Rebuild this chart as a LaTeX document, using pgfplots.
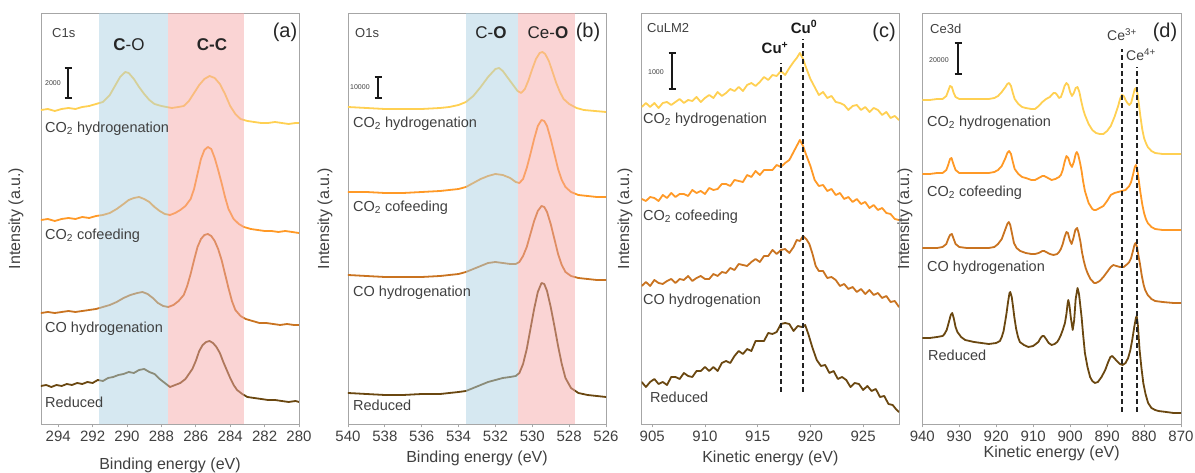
\documentclass[border=0pt]{standalone}
\usepackage{fontspec}
\setmainfont{Liberation Sans}
\usepackage{pgfplots}
\pgfplotsset{compat=1.18}

\definecolor{cy}{HTML}{FFD052}   % CO2 hydrogenation
\definecolor{co}{HTML}{FF9926}   % CO2 cofeeding
\definecolor{ch}{HTML}{C97320}   % CO hydrogenation
\definecolor{cr}{HTML}{6A4710}   % reduced
\definecolor{bandblue}{RGB}{173,209,227}
\definecolor{bandpink}{RGB}{245,169,169}
\definecolor{axgray}{HTML}{A6A6A6}
\definecolor{txtgray}{HTML}{404040}
\definecolor{dashc}{HTML}{222222}

\newcommand\fs[1]{\fontsize{#1}{#1}\selectfont}

\pgfplotsset{
  xps/.style={
    scale only axis, height=411pt, anchor=south west,
    ymin=0, ymax=411, ytick=\empty,
    axis line style={draw=axgray, line width=0.9pt},
    xtick pos=left, tick align=outside, major tick length=3.5pt,
    tick style={draw=axgray, line width=0.9pt},
    xticklabel style={font=\fs{15}, text=txtgray},
    /pgf/number format/assume math mode=true,
    /pgf/number format/1000 sep={},
    label style={font=\fs{16}, text=txtgray},
  },
}
\tikzset{
  spec/.style={line width=1.8pt, line join=round, line cap=round},
  band/.style={fill opacity=0.5, draw=none},
  refline/.style={draw=dashc, line width=2pt, dash pattern=on 5pt off 3pt},
  lab/.style={anchor=west, text=txtgray, font=\fs{14.5}, inner sep=0pt},
  core/.style={anchor=west, text=txtgray, font=\fs{13}, inner sep=0pt},
  pnl/.style={anchor=center, text=black!85, font=\fs{20}, inner sep=0pt},
  sbl/.style={anchor=west, text=txtgray, font=\fs{7}, inner sep=0pt},
  sb/.style={draw=black!90, line width=1.4pt},
}
\newcommand\scalebar[3]{%
  \draw[sb] (#1pt,#2pt) -- (#1pt,#3pt);
  \draw[sb] (#1pt,#2pt) ++(-3.5pt,0) -- ++(7pt,0);
  \draw[sb] (#1pt,#3pt) ++(-3.5pt,0) -- ++(7pt,0);}

\begin{document}
\begin{tikzpicture}
\path[use as bounding box] (0pt,0pt) rectangle (1195pt,473pt);

%------------------------------------------------ (a) C1s
\begin{axis}[xps, at={(41pt,49pt)}, width=258pt,
  x dir=reverse, xmin=280, xmax=295, xtick={280,282,...,294},
  xlabel={Binding energy (eV)}, ylabel={Intensity (a.u.)},
  xlabel style={at={(axis description cs:0.5,-0.0998)}, anchor=center},
  ylabel style={at={(axis description cs:-0.097,0.5)}, anchor=center}]
\addplot[cy, spec] coordinates {(295.0,314) (294.6,315) (294.2,313) (293.8,315) (293.4,316) (293.0,315) (292.6,317) (292.2,318) (291.8,320) (291.4,322) (291.0,329) (290.7,338) (290.4,347) (290.1,352) (289.9,351) (289.6,345) (289.3,337) (289.0,330) (288.7,324) (288.4,320) (288.0,318) (287.7,317) (287.4,316) (287.0,317) (286.7,318) (286.4,323) (286.1,331) (285.8,339) (285.5,345) (285.2,348) (284.9,346) (284.6,340) (284.3,330) (284.0,318) (283.7,310) (283.4,305) (283.0,303) (282.6,302) (282.2,301) (281.8,301) (281.4,302) (281.0,301) (280.6,300) (280.2,301) (280.0,301)};
\addplot[co, spec] coordinates {(295.0,204) (294.6,205) (294.2,203) (293.8,205) (293.4,206) (293.0,205) (292.6,207) (292.2,206) (291.8,208) (291.4,209) (291.0,211) (290.6,215) (290.2,220) (289.9,224) (289.6,226) (289.3,227) (289.0,225) (288.7,222) (288.4,217) (288.1,213) (287.8,210) (287.5,209) (287.2,211) (286.9,214) (286.6,218) (286.3,225) (286.1,235) (285.9,250) (285.7,265) (285.5,274) (285.3,277) (285.1,275) (284.9,266) (284.7,254) (284.5,241) (284.3,227) (284.1,215) (283.8,205) (283.5,200) (283.2,197) (282.8,195) (282.4,194) (282.0,193) (281.6,193) (281.2,192) (280.8,193) (280.4,192) (280.0,191)};
\addplot[ch, spec] coordinates {(295.0,111) (294.6,112) (294.2,111) (293.8,112) (293.4,113) (293.0,112) (292.6,113) (292.2,114) (291.8,115) (291.4,117) (291.0,119) (290.6,122) (290.2,126) (289.8,129) (289.4,131) (289.1,132) (288.8,130) (288.5,126) (288.2,121) (287.9,118) (287.6,117) (287.3,119) (287.0,123) (286.7,129) (286.5,138) (286.3,150) (286.1,164) (285.9,177) (285.7,185) (285.5,189) (285.3,190) (285.1,188) (284.9,183) (284.7,175) (284.5,164) (284.3,150) (284.1,136) (283.9,123) (283.7,114) (283.4,108) (283.1,105) (282.7,103) (282.3,101) (281.9,101) (281.5,100) (281.1,99) (280.7,100) (280.3,99) (280.0,99)};
\addplot[cr, spec] coordinates {(295.0,38) (294.7,39) (294.4,37) (294.1,39) (293.8,38) (293.5,40) (293.2,39) (292.9,41) (292.6,40) (292.3,42) (292.0,41) (291.7,44) (291.4,43) (291.1,46) (290.8,47) (290.5,49) (290.2,50) (289.9,52) (289.6,51) (289.3,54) (289.0,55) (288.7,52) (288.4,50) (288.1,45) (287.8,41) (287.5,37) (287.2,39) (286.9,41) (286.6,45) (286.4,50) (286.2,55) (286.0,63) (285.8,73) (285.6,79) (285.4,82) (285.2,83) (285.0,81) (284.8,77) (284.6,71) (284.4,62) (284.2,54) (284.0,46) (283.8,39) (283.6,34) (283.3,30) (283.0,27) (282.6,26) (282.2,25) (281.8,24) (281.4,24) (281.0,23) (280.6,22) (280.2,23) (280.0,22)};
\fill[bandblue, band] (291.6,0) rectangle (287.6,411);
\fill[bandpink, band] (287.6,0) rectangle (283.2,411);
\end{axis}

%------------------------------------------------ (b) O1s
\begin{axis}[xps, at={(348pt,49pt)}, width=258pt,
  x dir=reverse, xmin=526, xmax=540, xtick={526,528,...,540},
  xlabel={Binding energy (eV)}, ylabel={Intensity (a.u.)},
  xlabel style={at={(axis description cs:0.5,-0.0827)}, anchor=center},
  ylabel style={at={(axis description cs:-0.089,0.5)}, anchor=center}]
\addplot[cy, spec] coordinates {(540.0,317) (539.0,316) (538.0,315) (537.0,315) (536.0,315) (535.0,316) (534.5,317) (534.0,319) (533.6,322) (533.2,328) (532.8,337) (532.4,347) (532.0,355) (531.8,356) (531.6,353) (531.2,343) (530.8,333) (530.6,331) (530.4,335) (530.2,344) (530.0,355) (529.8,365) (529.6,371) (529.45,372) (529.3,370) (529.1,363) (528.9,352) (528.7,341) (528.5,332) (528.3,325) (528.0,320) (527.6,316) (527.2,314) (526.6,313) (526.0,312)};
\addplot[co, spec] coordinates {(540.0,232) (539.0,232) (538.0,231) (537.0,231) (536.0,232) (535.0,233) (534.5,234) (534.0,235) (533.6,237) (533.2,241) (532.8,245) (532.4,248) (532.0,250) (531.6,249) (531.2,246) (530.9,242) (530.7,241) (530.5,245) (530.3,256) (530.1,270) (529.9,285) (529.7,298) (529.5,304) (529.35,303) (529.2,298) (529.0,285) (528.8,270) (528.6,255) (528.4,244) (528.2,237) (527.9,232) (527.5,229) (527.0,228) (526.5,227) (526.0,227)};
\addplot[ch, spec] coordinates {(540.0,149) (539.0,148) (538.0,147) (537.0,147) (536.0,147) (535.0,148) (534.5,149) (534.0,150) (533.6,152) (533.2,155) (532.8,158) (532.4,161) (532.0,162) (531.6,161) (531.2,160) (530.9,160) (530.7,162) (530.5,168) (530.3,177) (530.1,190) (529.9,203) (529.7,213) (529.5,218) (529.35,217) (529.2,212) (529.0,200) (528.8,185) (528.6,170) (528.4,159) (528.2,152) (527.9,148) (527.5,146) (527.0,145) (526.5,144) (526.0,144)};
\addplot[cr, spec] coordinates {(540.0,31) (539.0,30) (538.0,29) (537.0,29) (536.0,30) (535.0,30) (534.5,31) (534.0,32) (533.6,33) (533.2,36) (532.8,39) (532.4,42) (532.0,44) (531.6,46) (531.2,47) (530.9,48) (530.7,51) (530.5,60) (530.3,75) (530.1,95) (529.9,115) (529.7,132) (529.5,141) (529.35,140) (529.2,133) (529.0,117) (528.8,98) (528.6,78) (528.4,60) (528.2,46) (527.9,36) (527.5,31) (527.0,29) (526.5,28) (526.0,27)};
\fill[bandblue, band] (533.6,0) rectangle (530.75,411);
\fill[bandpink, band] (530.75,0) rectangle (527.7,411);
\end{axis}

%------------------------------------------------ (c) Cu LMM
\begin{axis}[xps, at={(641.7pt,49pt)}, width=257.3pt,
  xmin=904, xmax=928.4, xtick={905,910,...,925},
  xlabel={Kinetic energy (eV)}, ylabel={Intensity (a.u.)},
  xlabel style={at={(axis description cs:0.5,-0.0827)}, anchor=center},
  ylabel style={at={(axis description cs:-0.065,0.5)}, anchor=center}]
\addplot[cy, spec] coordinates {(904.0,317) (904.4,321) (904.8,317) (905.2,321) (905.6,316) (906.0,321) (906.4,322) (906.8,319) (907.2,322) (907.6,325) (908.0,321) (908.4,324) (908.8,323) (909.2,327) (909.6,322) (910.0,326) (910.4,329) (910.8,326) (911.2,332) (911.6,328) (912.0,331) (912.4,335) (912.8,333) (913.2,337) (913.6,333) (914.0,339) (914.4,341) (914.8,338) (915.2,342) (915.6,347) (916.0,344) (916.4,349) (916.8,348) (917.2,353) (917.6,349) (918.0,356) (918.4,362) (918.7,366) (919.0,371) (919.3,365) (919.6,356) (920.0,345) (920.4,337) (920.8,329) (921.2,332) (921.6,326) (922.0,328) (922.4,322) (922.8,321) (923.2,319) (923.6,314) (924.0,318) (924.4,319) (924.8,314) (925.2,317) (925.6,312) (926.0,316) (926.4,314) (926.8,309) (927.2,312) (927.6,306) (928.0,308) (928.4,304)};
\addplot[co, spec] coordinates {(904.0,225) (904.4,223) (904.8,227) (905.2,226) (905.6,223) (906.0,229) (906.4,226) (906.8,231) (907.2,227) (907.6,230) (908.0,230) (908.4,228) (908.8,234) (909.2,231) (909.6,233) (910.0,230) (910.4,236) (910.8,234) (911.2,235) (911.6,240) (912.0,240) (912.4,238) (912.8,244) (913.2,243) (913.6,242) (914.0,249) (914.4,247) (914.8,253) (915.2,249) (915.6,254) (916.0,254) (916.4,254) (916.8,259) (917.2,257) (917.6,261) (918.0,264) (918.4,272) (918.7,278) (919.0,284) (919.3,278) (919.6,269) (920.0,258) (920.4,244) (920.8,238) (921.2,239) (921.6,233) (922.0,235) (922.4,229) (922.8,231) (923.2,225) (923.6,227) (924.0,222) (924.4,225) (924.8,220) (925.2,222) (925.6,216) (926.0,219) (926.4,214) (926.8,216) (927.2,211) (927.6,210) (928.0,205) (928.4,204)};
\addplot[ch, spec] coordinates {(904.0,138) (904.4,142) (904.8,138) (905.2,144) (905.6,141) (906.0,140) (906.4,143) (906.8,145) (907.2,141) (907.6,145) (908.0,144) (908.4,148) (908.8,143) (909.2,146) (909.6,148) (910.0,145) (910.4,145) (910.8,150) (911.2,148) (911.6,152) (912.0,151) (912.4,156) (912.8,154) (913.2,160) (913.6,159) (914.0,158) (914.4,162) (914.8,165) (915.2,162) (915.6,168) (916.0,168) (916.4,174) (916.8,170) (917.2,174) (917.6,175) (918.0,171) (918.4,177) (918.7,184) (919.0,183) (919.3,188) (919.6,185) (919.9,180) (920.2,170) (920.5,158) (920.8,153) (921.2,153) (921.6,146) (922.0,147) (922.4,144) (922.8,138) (923.2,140) (923.6,135) (924.0,137) (924.4,132) (924.8,135) (925.2,130) (925.6,134) (926.0,129) (926.4,131) (926.8,126) (927.2,128) (927.6,122) (928.0,123) (928.4,117)};
\addplot[cr, spec] coordinates {(904.0,42) (904.4,37) (904.8,42) (905.2,45) (905.6,40) (906.0,42) (906.4,39) (906.8,47) (907.2,47) (907.6,45) (908.0,51) (908.4,48) (908.8,47) (909.2,53) (909.6,53) (910.0,57) (910.4,53) (910.8,57) (911.2,53) (911.6,61) (912.0,63) (912.4,61) (912.8,68) (913.2,73) (913.6,70) (914.0,75) (914.4,73) (914.8,83) (915.2,83) (915.6,83) (916.0,91) (916.4,90) (916.8,92) (917.2,100) (917.6,101) (918.0,100) (918.4,93) (918.8,98) (919.2,97) (919.5,99) (919.8,90) (920.2,76) (920.6,64) (921.0,58) (921.4,59) (921.8,51) (922.2,53) (922.6,45) (923.0,47) (923.4,44) (923.8,37) (924.2,41) (924.6,40) (925.0,34) (925.4,38) (925.8,33) (926.2,35) (926.6,27) (927.0,28) (927.4,20) (927.8,19) (928.1,15) (928.4,12)};
\draw[refline] (917.25,32) -- (917.25,361);
\draw[refline] (919.25,32) -- (919.25,385);
\end{axis}

%------------------------------------------------ (d) Ce3d
\begin{axis}[xps, at={(922.3pt,49pt)}, width=258.7pt,
  x dir=reverse, xmin=870, xmax=940, xtick={870,880,...,940},
  xlabel={Kinetic energy (eV)}, ylabel={Intensity (a.u.)},
  xlabel style={at={(axis description cs:0.5,-0.0706)}, anchor=center},
  ylabel style={at={(axis description cs:-0.067,0.5)}, anchor=center}]
\addplot[cy, spec] coordinates {(940,324) (938,324) (936,325) (934.5,325) (933.5,328) (933.0,333) (932.5,338) (932.0,337) (931.5,331) (931.0,327) (930.0,325) (928,325) (926,325) (924,325) (922,325) (920.5,326) (919.5,328) (918.5,332) (917.5,337) (917.0,340) (916.5,341) (916.0,338) (915.5,331) (915.0,325) (914.0,320) (913.0,317) (912.0,316) (910.5,315) (909.5,315) (908.5,318) (907.5,322) (906.5,325) (905.5,327) (904.5,331) (904.0,331) (903.5,329) (903.0,326) (902.5,327) (902.0,332) (901.5,338) (901.0,341) (900.5,339) (900.0,332) (899.5,328) (899.0,331) (898.5,336) (898.0,337) (897.5,332) (897.0,323) (896.5,315) (896.0,309) (895.0,300) (894.0,294) (893.0,291) (892.0,290) (891.0,290) (890.0,293) (889.0,298) (888.0,307) (887.0,318) (886.5,325) (886.0,329) (885.5,328) (885.0,324) (884.5,321) (884.0,319) (883.5,321) (883.0,328) (882.5,335) (882.2,336) (881.8,331) (881.4,320) (881.0,308) (880.5,295) (880.0,286) (879.5,281) (879.0,277) (878.0,273) (877.0,271) (875.0,270) (872.0,270) (870.0,270)};
\addplot[co, spec] coordinates {(940,250) (938,250) (936,251) (934.5,251) (933.5,254) (933.0,259) (932.5,265) (932.1,266) (931.5,259) (931.0,254) (930.0,251) (928,251) (926,251) (924,251) (922,251) (920.5,252) (919.5,254) (918.5,258) (917.5,266) (917.0,271) (916.5,273) (916.0,270) (915.5,262) (915.0,255) (914.0,250) (913.0,247) (912.0,246) (910.5,244) (909.5,244) (908.5,246) (907.5,248) (907.0,248) (906.5,247) (905.5,245) (905.0,244) (904.0,245) (903.0,247) (902.5,249) (902.0,254) (901.5,262) (901.0,268) (900.5,266) (900.0,260) (899.5,257) (899.0,262) (898.5,270) (898.2,272) (897.8,269) (897.3,261) (896.9,253) (896.5,243) (896.0,233) (895.5,227) (895.0,221) (894.0,215) (893.5,214) (893.0,214) (892.0,216) (891.0,218) (890.0,223) (889.0,229) (888.0,231) (887.0,232) (886.0,233) (885.0,234) (884.5,236) (884.0,238) (883.5,242) (883.0,249) (882.5,257) (882.2,259) (881.8,254) (881.4,243) (881.0,232) (880.5,220) (880.0,211) (879.5,205) (879.0,201) (878.0,197) (877.0,195) (875.0,194) (872.0,194) (870.0,194)};
\addplot[ch, spec] coordinates {(940,176) (938,176) (936,176) (934.5,177) (933.5,180) (933.0,185) (932.5,189) (932.0,190) (931.5,185) (931.0,180) (930.0,177) (928,176) (926,176) (924,176) (922,176) (920.5,177) (919.5,180) (918.5,185) (917.5,195) (917.0,200) (916.6,202) (916.2,199) (915.7,190) (915.2,181) (914.5,176) (913.5,173) (912.0,171) (910.5,170) (909.5,170) (908.5,171) (907.5,173) (907.0,173) (906.5,172) (905.5,170) (904.5,169) (903.5,170) (903.0,172) (902.5,175) (902.0,180) (901.5,187) (901.0,192) (900.6,191) (900.1,184) (899.6,180) (899.1,186) (898.6,194) (898.1,196) (897.7,191) (897.2,182) (896.8,172) (896.3,163) (895.8,156) (895.3,151) (894.5,145) (893.5,141) (893.0,141) (892.0,143) (891.0,147) (890.0,152) (889.0,157) (888.3,159) (887.5,158) (886.5,157) (885.5,157) (884.5,160) (884.0,162) (883.5,166) (883.0,173) (882.6,179) (882.3,181) (881.9,177) (881.5,168) (881.1,160) (880.6,148) (880.1,139) (879.7,134) (879.0,129) (878.0,125) (877.0,123) (875.0,122) (872.0,121) (870.0,121)};
\addplot[cr, spec] coordinates {(940,86) (938,86) (936,87) (934.5,88) (934.0,90) (933.4,94) (932.8,102) (932.3,109) (931.9,111) (931.5,106) (931.0,97) (930.5,92) (929.5,87) (928.4,84) (926.0,82) (924.0,81) (922.0,80) (920.0,81) (919.0,83) (918.5,87) (918.0,93) (917.5,104) (917.2,111) (916.8,122) (916.4,131) (916.2,132) (915.8,127) (915.4,116) (915.1,107) (914.6,95) (914.1,87) (913.6,82) (912.5,79) (911.3,77) (910.0,78) (909.3,80) (908.6,82) (908.0,86) (907.5,88) (907.1,88) (906.5,85) (905.8,81) (905.0,79) (904.2,80) (903.5,82) (903.0,85) (902.5,89) (902.0,94) (901.4,101) (901.0,110) (900.7,120) (900.5,124) (900.2,119) (899.8,106) (899.3,94) (898.9,104) (898.5,125) (898.0,136) (897.6,130) (897.2,117) (896.9,107) (896.5,90) (896.0,71) (895.3,57) (894.6,47) (894.0,43) (893.3,41) (892.5,42) (891.5,47) (890.5,54) (889.7,62) (889.1,67) (888.6,68) (888.1,66) (887.1,62) (886.5,60) (885.8,59) (885.0,61) (884.3,66) (883.7,74) (883.2,84) (882.6,98) (882.2,106) (882.0,108) (881.7,100) (881.2,74) (880.7,56) (880.2,41) (879.6,30) (878.9,21) (878.0,16) (877.0,14) (876.1,13) (874.0,12) (872.0,11) (870.0,11)};
\draw[refline] (885.9,12) -- (885.9,375);
\draw[refline] (882.0,12) -- (882.0,357);
\end{axis}

%------------------------------------------------ annotations
% (a)
\node[core] at (52pt,440pt) {C1s};
\node[anchor=center, font=\fs{17}, text=black!85] at (129pt,428pt) {\textbf{C}-O};
\node[anchor=center, font=\fs{17}, text=black!85] at (212pt,428pt) {\textbf{C-C}};
\node[pnl] at (285pt,441pt) {(a)};
\node[sbl] at (45pt,390pt) {2000};
\scalebar{68}{375}{405}
\node[lab] at (45pt,344pt) {CO\textsubscript{2} hydrogenation};
\node[lab] at (45pt,237pt) {CO\textsubscript{2} cofeeding};
\node[lab] at (45pt,144pt) {CO hydrogenation};
\node[lab] at (45pt,71pt) {Reduced};
% (b)
\node[core] at (355pt,440pt) {O1s};
\node[anchor=center, font=\fs{17}, text=black!85] at (491pt,440pt) {C-\textbf{O}};
\node[anchor=center, font=\fs{17}, text=black!85] at (548pt,440pt) {Ce-\textbf{O}};
\node[pnl] at (588pt,441pt) {(b)};
\node[sbl] at (350pt,386pt) {10000};
\scalebar{378}{375}{396}
\node[lab] at (353pt,349pt) {CO\textsubscript{2} hydrogenation};
\node[lab] at (353pt,265pt) {CO\textsubscript{2} cofeeding};
\node[lab] at (353pt,180pt) {CO hydrogenation};
\node[lab] at (353pt,68pt) {Reduced};
% (c)
\node[core] at (647pt,445pt) {CuLM2};
\node[anchor=center, font=\fs{15}, text=black!90] at (804pt,446pt) {\textbf{Cu\textsuperscript{0}}};
\node[anchor=center, font=\fs{15}, text=black!90] at (775pt,425pt) {\textbf{Cu\textsuperscript{+}}};
\node[pnl] at (884pt,441pt) {(c)};
\node[sbl] at (648pt,401pt) {1000};
\scalebar{672}{384}{420}
\node[lab] at (643pt,353pt) {CO\textsubscript{2} hydrogenation};
\node[lab] at (643pt,256pt) {CO\textsubscript{2} cofeeding};
\node[lab] at (643pt,172pt) {CO hydrogenation};
\node[lab] at (650pt,76pt) {Reduced};
% (d)
\node[core] at (930pt,444pt) {Ce3d};
\node[pnl] at (1165pt,441pt) {(d)};
\node[anchor=center, font=\fs{14}, text=txtgray] at (1122pt,438pt) {Ce\textsuperscript{3+}};
\node[anchor=center, font=\fs{14}, text=txtgray] at (1141pt,418pt) {Ce\textsuperscript{4+}};
\node[sbl] at (929pt,413pt) {20000};
\scalebar{958}{399}{430}
\node[lab] at (927pt,350pt) {CO\textsubscript{2} hydrogenation};
\node[lab] at (927pt,280pt) {CO\textsubscript{2} cofeeding};
\node[lab] at (927pt,205pt) {CO hydrogenation};
\node[lab] at (928pt,118pt) {Reduced};
\end{tikzpicture}
\end{document}
